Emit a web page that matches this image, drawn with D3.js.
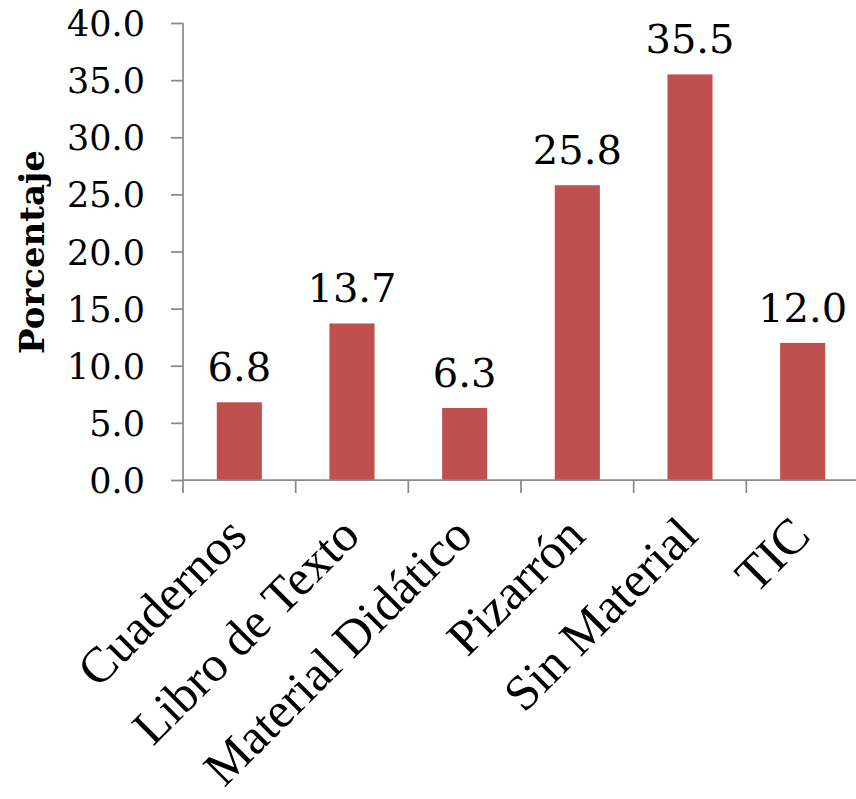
<!DOCTYPE html>
<html>
<head>
<meta charset="utf-8">
<script src="https://cdn.jsdelivr.net/npm/d3@7"></script>
<style>
  html, body { margin: 0; padding: 0; background: #ffffff; }
  svg { display: block; }
</style>
</head>
<body>
<svg id="chart" width="856" height="799"></svg>
<script>
const categories = ["Cuadernos", "Libro de Texto", "Material Didático", "Pizarrón", "Sin Material", "TIC"];
const values = [6.8, 13.7, 6.3, 25.8, 35.5, 12.0];
const yTicks = [0, 5, 10, 15, 20, 25, 30, 35, 40];
const yTitle = "Porcentaje";

const svg = d3.select("#chart");
const axisColor = "#8a8a8a";

const x = d3.scaleBand().domain(categories).range([183, 859]).paddingInner(0.6).paddingOuter(0.3);
const y = d3.scaleLinear().domain([0, 40]).range([480, 23]);

// bars
svg.append("g").selectAll("rect").data(values).join("rect")
  .attr("x", (d, i) => x(categories[i]))
  .attr("y", d => y(d))
  .attr("width", x.bandwidth())
  .attr("height", d => y(0) - y(d))
  .attr("fill", "#C0504D");

// y axis
const yAxis = svg.append("g").attr("transform", "translate(183,0)")
  .call(d3.axisLeft(y).tickValues(yTicks).tickFormat(d3.format(".1f")).tickSize(12).tickPadding(26));
yAxis.select(".domain").attr("stroke", axisColor).attr("stroke-width", 1.75).attr("d", "M0,23V480");
yAxis.selectAll(".tick line").attr("stroke", axisColor).attr("stroke-width", 1.75);
yAxis.selectAll(".tick text")
  .attr("font-family", "'DejaVu Serif', serif")
  .attr("font-size", 35)
  .attr("fill", "#000")
  .attr("dy", "0.36em");

// x axis
const xAxis = svg.append("g").attr("transform", "translate(0,480)")
  .call(d3.axisBottom(x).tickSize(0).tickFormat(""));
xAxis.select(".domain").attr("stroke", axisColor).attr("stroke-width", 1.75).attr("d", "M183,0H856");
xAxis.selectAll(".tick line").remove();
// boundary ticks between categories
const boundaries = categories.map(c => x(c) - x.step() * x.paddingOuter());
xAxis.selectAll(".bound").data(boundaries).join("line")
  .attr("class", "bound")
  .attr("x1", d => d).attr("x2", d => d)
  .attr("y1", 0).attr("y2", 13)
  .attr("stroke", axisColor).attr("stroke-width", 1.75);

// category labels
svg.append("g").selectAll("text").data(categories).join("text")
  .attr("transform", d => `translate(${x(d) + x.bandwidth() / 2 + 10},538) rotate(-45)`)
  .attr("text-anchor", "end")
  .attr("font-family", "'Liberation Serif', serif")
  .attr("font-size", 50)
  .attr("fill", "#000")
  .text(d => d);

// value labels
svg.append("g").selectAll("text").data(values).join("text")
  .attr("x", (d, i) => x(categories[i]) + x.bandwidth() / 2)
  .attr("y", d => y(d) - 21)
  .attr("text-anchor", "middle")
  .attr("font-family", "'DejaVu Serif', serif")
  .attr("font-size", 40)
  .attr("fill", "#000")
  .text(d => d3.format(".1f")(d));

// y title
svg.append("text")
  .attr("transform", "translate(44,252) rotate(-90)")
  .attr("text-anchor", "middle")
  .attr("font-family", "'DejaVu Serif', serif")
  .attr("font-weight", "bold")
  .attr("font-size", 34)
  .attr("fill", "#000")
  .text(yTitle);
</script>
</body>
</html>
